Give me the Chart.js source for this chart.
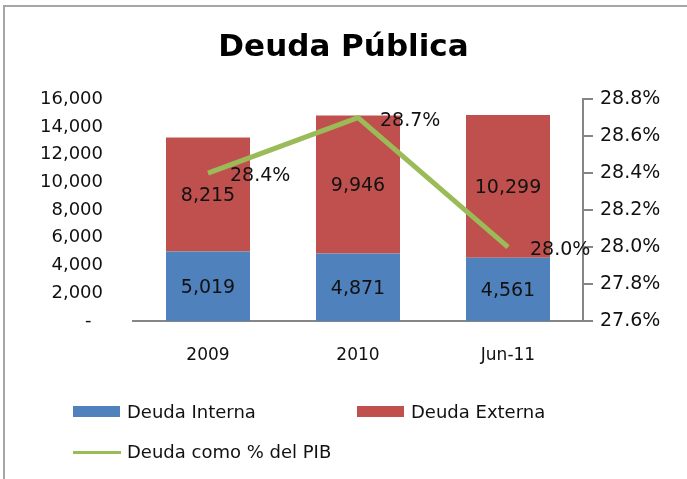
<!DOCTYPE html>
<html>
<head>
<meta charset="utf-8">
<script src="https://cdn.jsdelivr.net/npm/chart.js@4.4.0/dist/chart.umd.min.js"></script>
<style>
    body { margin: 0; overflow: hidden; background: #fff; font-family: "DejaVu Sans", sans-serif; }
    #frame { position: absolute; left: 3px; top: 5px; width: 720px; height: 520px; border: 2px solid #a6a6a6; }
    #chart-wrap { position: absolute; left: 0; top: 0; width: 687px; height: 479px; }
    #legend-div ul { list-style: none; margin: 0; padding: 0; }
    #legend-div li { position: absolute; font-size: 18px; color: #111; white-space: nowrap; line-height: 20px; }
    #legend-div span { position: absolute; left: 0; }
</style>
</head>
<body>
<div id="frame"></div>
<div id="chart-wrap"><canvas id="barChartCanvas" width="687" height="479"></canvas></div>
<div id="legend-div"></div>
<script>
let categories = ['2009', '2010', 'Jun-11'];
let deudaInterna = [5019, 4871, 4561];
let deudaExterna = [8215, 9946, 10299];
let deudaPib = [28.4, 28.7, 28.0];
let leftTicks = [0, 2000, 4000, 6000, 8000, 10000, 12000, 14000, 16000];
let rightTicks = [27.6, 27.8, 28.0, 28.2, 28.4, 28.6, 28.8];

let fontFamily = '"DejaVu Sans", sans-serif';
let textColor = '#111';

window.onload = function () {
    barChartDraw();
    document.getElementById('legend-div').innerHTML = customLegend(window.barChart);
}

let barChartData = {
    labels: categories,
    datasets: [{
        type: 'line',
        label: 'Deuda como % del PIB',
        data: deudaPib,
        yAxisID: 'y1',
        borderColor: '#9bbb59',
        backgroundColor: '#9bbb59',
        borderWidth: 5,
        pointRadius: 0,
        tension: 0,
        order: 0
    }, {
        label: 'Deuda Interna',
        data: deudaInterna,
        backgroundColor: '#4f81bd',
        stack: 'deuda',
        categoryPercentage: 0.56,
        barPercentage: 1,
        order: 1
    }, {
        label: 'Deuda Externa',
        data: deudaExterna,
        backgroundColor: '#c0504d',
        stack: 'deuda',
        categoryPercentage: 0.56,
        barPercentage: 1,
        order: 1
    }]
};

// draws the values next to bars and line points
let valueLabels = {
    id: 'valueLabels',
    afterDatasetsDraw: function (chart) {
        let ctx = chart.ctx;
        ctx.save();
        ctx.fillStyle = textColor;
        ctx.font = '19px ' + fontFamily;
        ctx.textBaseline = 'middle';
        chart.data.datasets.forEach(function (ds, i) {
            let meta = chart.getDatasetMeta(i);
            meta.data.forEach(function (el, j) {
                if (ds.type === 'line') {
                    ctx.textAlign = 'left';
                    ctx.fillText(ds.data[j].toFixed(1) + '%', el.x + 22, el.y + 3);
                } else {
                    ctx.textAlign = 'center';
                    ctx.fillText(ds.data[j].toLocaleString('en-US'), el.x, (el.y + el.base) / 2 + 2);
                }
            });
        });
        ctx.restore();
    }
};

let barChartDraw = function () {
    let ctx = document.getElementById('barChartCanvas').getContext('2d');

    window.barChart = new Chart(ctx, {
        type: 'bar',
        data: barChartData,
        plugins: [valueLabels],
        options: {
            responsive: false,
            animation: false,
            layout: { padding: { top: 10, left: 0, right: 0, bottom: 0 } },
            plugins: {
                legend: { display: false },
                tooltip: { enabled: false },
                title: {
                    display: true,
                    text: 'Deuda Pública',
                    color: '#000',
                    font: { family: fontFamily, size: 31, weight: 'bold' },
                    padding: { top: 19, bottom: 33 }
                }
            },
            scales: {
                x: {
                    stacked: true,
                    grid: { display: false, drawTicks: false },
                    border: { display: true, color: '#868686', width: 2 },
                    ticks: { color: textColor, font: { family: fontFamily, size: 17 }, padding: 24 },
                    afterFit: function (scale) { scale.height = 479 - 321; }
                },
                y: {
                    stacked: true,
                    position: 'left',
                    min: leftTicks[0],
                    max: leftTicks[leftTicks.length - 1],
                    grid: { display: false, drawTicks: false },
                    border: { display: false },
                    afterBuildTicks: function (scale) {
                        scale.ticks = leftTicks.map(function (v) { return { value: v }; });
                    },
                    ticks: {
                        color: textColor,
                        font: { family: fontFamily, size: 18 },
                        padding: 30,
                        callback: function (v) { return v === 0 ? '-  ' : v.toLocaleString('en-US'); }
                    },
                    afterFit: function (scale) { scale.width = 133; }
                },
                y1: {
                    position: 'right',
                    min: rightTicks[0],
                    max: rightTicks[rightTicks.length - 1],
                    grid: { display: true, drawOnChartArea: false, drawTicks: true, tickLength: 10, color: '#868686', lineWidth: 2 },
                    border: { display: true, color: '#868686', width: 2 },
                    afterBuildTicks: function (scale) {
                        scale.ticks = rightTicks.map(function (v) { return { value: v }; });
                    },
                    ticks: {
                        color: textColor,
                        font: { family: fontFamily, size: 19 },
                        padding: 7,
                        callback: function (v) { return v.toFixed(1) + '%'; }
                    },
                    afterFit: function (scale) { scale.width = 687 - 583; }
                }
            }
        }
    });
};

let customLegend = function (chart) {
    let ul = document.createElement('ul');
    let places = {
        'Deuda Interna': [73, 402],
        'Deuda Externa': [357, 402],
        'Deuda como % del PIB': [73, 442]
    };

    chart.data.datasets.slice().reverse().forEach(function (ds) {
        let pos = places[ds.label];
        let mark = ds.type === 'line'
            ? `<span style="background-color: ${ds.borderColor}; top: 9px; width: 48px; height: 3px;"></span>`
            : `<span style="background-color: ${ds.backgroundColor}; top: 4px; width: 47px; height: 11px;"></span>`;
        ul.innerHTML += `<li style="left: ${pos[0]}px; top: ${pos[1]}px; padding-left: 54px;">${mark}${ds.label}</li>`;
    });

    return ul.outerHTML;
};
</script>
</body>
</html>
